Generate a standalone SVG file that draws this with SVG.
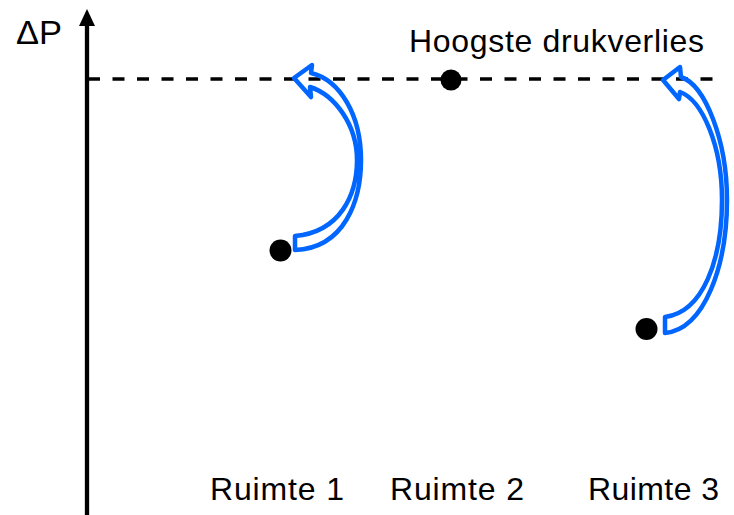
<svg xmlns="http://www.w3.org/2000/svg" width="734" height="515" viewBox="0 0 734 515">
<style>
.t{font-family:"Liberation Sans",Arial,sans-serif;font-size:32px;fill:#000}
.arr{fill:none;stroke:#0066FF;stroke-width:4.5;stroke-linejoin:round}
.dot{fill:#000}
</style>
<rect width="734" height="515" fill="#fff"/>
<g id="axis">
<line x1="87" y1="24" x2="87" y2="515" stroke="#000" stroke-width="4.3"/>
<polygon points="87,9 95,26 79,26" fill="#000"/>
<text class="t" x="16" y="44" style="font-size:34px" textLength="46" lengthAdjust="spacingAndGlyphs">ΔP</text>
</g>
<g id="threshold">
<line x1="88" y1="79" x2="722" y2="79" stroke="#000" stroke-width="3.5" stroke-dasharray="12 12.5"/>
<text class="t" x="409" y="52" textLength="295" lengthAdjust="spacing">Hoogste drukverlies</text>
</g>
<g id="ruimte1">
<circle class="dot" cx="280.5" cy="250.5" r="11"/>
<text class="t" x="210" y="500" textLength="134" lengthAdjust="spacing">Ruimte 1</text>
</g>
<g id="ruimte2">
<circle class="dot" cx="451" cy="80" r="10.5"/>
<text class="t" x="390" y="500" textLength="134" lengthAdjust="spacing">Ruimte 2</text>
</g>
<g id="ruimte3">
<circle class="dot" cx="646.5" cy="329" r="11"/>
<text class="t" x="588" y="500" textLength="131" lengthAdjust="spacing">Ruimte 3</text>
</g>
<g id="connectors">
<path class="arr" d="M295,250 C345,248 361,200 361,160 C361,115 340,80 311,73 L312,65 L294,78 L311,97 L310,87 C335,95 357,125 357,160 C357,195 340,232 295,236 Z"/>
<path class="arr" d="M665,333 C705,329 727,265 727,200 C727,140 705,85 681,77 L680,67 L663,80 L679,99 L680,92 C702,100 722,145 722,200 C722,260 703,312 665,317 Z"/>
</g>
</svg>
